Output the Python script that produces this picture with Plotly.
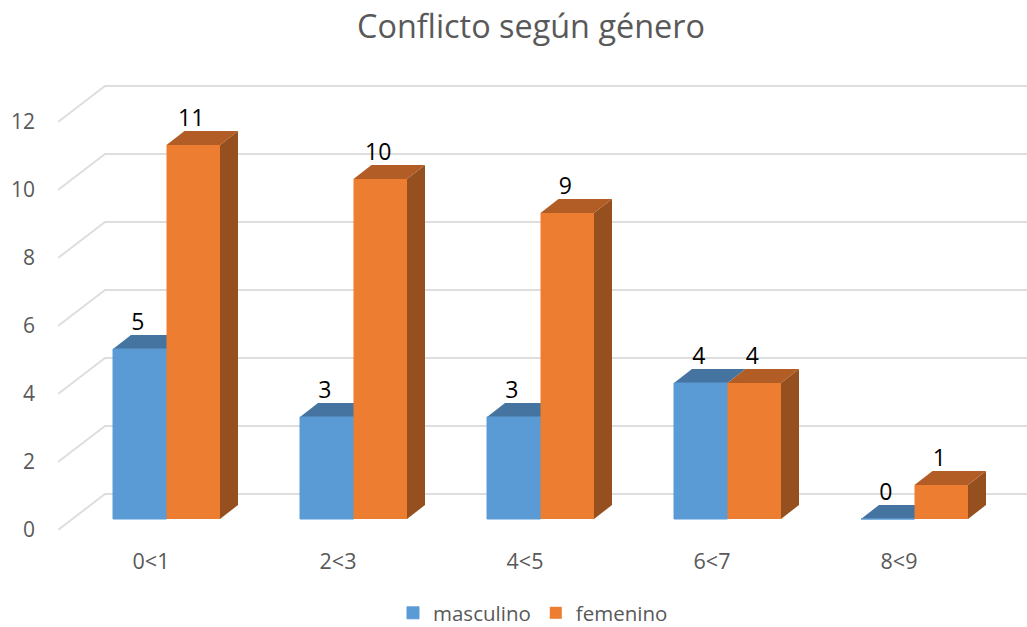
import plotly.graph_objects as go

categories = ["0<1", "2<3", "4<5", "6<7", "8<9"]
masculino = [5, 3, 3, 4, 0]
femenino = [11, 10, 9, 4, 1]
y_ticks = [0, 2, 4, 6, 8, 10, 12]

W, H = 1027, 627
L, R, T, B = 58, 0, 60, 97
PX_X = 187.0   # pixels per category
PX_Y = 34.0    # pixels per value unit
X0 = (L - 151) / PX_X
X1 = (W - 151) / PX_X
Y1 = (H - T - B) / PX_Y

px = lambda n: n / PX_X
py = lambda n: n / PX_Y

BASE = py(11)              # bars stand on the floor, in front of the wall
BAR_W = px(53.5)
SHIFT = px(15.5)
DX, DY = px(18), py(14)    # bar depth
WX, WY = px(47), py(36)    # wall depth

GRID = "#dedede"
TXT = "#595959"
FONT = "Open Sans"
BLUE, BLUE_TOP = "#5B9BD5", "#44749F"
ORANGE, ORANGE_TOP, ORANGE_SIDE = "#ED7D31", "#B25D25", "#96501F"

idx = list(range(len(categories)))
x_m = [i + SHIFT - BAR_W / 2 for i in idx]
x_f = [i + SHIFT + BAR_W / 2 for i in idx]

def poly(points, color):
    path = "M " + " L ".join(f"{x},{y}" for x, y in points) + " Z"
    return dict(type="path", path=path, xref="x", yref="y", fillcolor=color,
                line=dict(width=0), layer="below")

shapes = []
for v in y_ticks:
    shapes.append(dict(type="path", xref="x", yref="y", layer="below",
                       path=f"M {X0},{v} L {X0 + WX},{v + WY} L {X1},{v + WY}",
                       line=dict(color=GRID, width=2)))

for xc, v in zip(x_m, masculino):
    l, r, t = xc - BAR_W / 2, xc + BAR_W / 2, BASE + v
    shapes.append(poly([(l, t), (r, t), (r + DX, t + DY), (l + DX, t + DY)], BLUE_TOP))

for xc, v in zip(x_f, femenino):
    l, r, t = xc - BAR_W / 2, xc + BAR_W / 2, BASE + v
    shapes.append(poly([(r, BASE), (r + DX, BASE + DY), (r + DX, t + DY), (r, t)], ORANGE_SIDE))
    shapes.append(poly([(l, t), (r, t), (r + DX, t + DY), (l + DX, t + DY)], ORANGE_TOP))

fig = go.Figure()
fig.add_bar(name="masculino", x=x_m, y=masculino, base=BASE, width=BAR_W,
            marker=dict(color=BLUE, line=dict(width=1, color=BLUE)))
fig.add_bar(name="femenino", x=x_f, y=femenino, base=BASE, width=BAR_W,
            marker=dict(color=ORANGE, line=dict(width=0)))

label_lift = py(25)
fig.add_scatter(x=[x - px(2) for x in x_m] + [x - px(2) for x in x_f],
                y=[BASE + v + label_lift for v in masculino + femenino],
                text=[str(v) for v in masculino + femenino],
                mode="text", textposition="middle center",
                textfont=dict(family=FONT, size=23, color="#000000"),
                showlegend=False, hoverinfo="skip")

fig.update_layout(
    width=W, height=H, margin=dict(l=L, r=R, t=T, b=B, autoexpand=False),
    paper_bgcolor="white", plot_bgcolor="rgba(0,0,0,0)",
    barmode="overlay", shapes=shapes,
    font=dict(family=FONT, color=TXT),
    title=dict(text="Conflicto según género", x=531 / W, xanchor="center",
               y=1 - 27 / H, yanchor="middle",
               font=dict(family=FONT, size=32.4, color=TXT)),
    legend=dict(orientation="h", x=(533 - L) / (W - L), xanchor="center",
                y=(530 - 613) / (H - T - B), yanchor="middle",
                font=dict(family=FONT, size=20.5, color=TXT), bgcolor="rgba(0,0,0,0)"),
    xaxis=dict(range=[X0, X1], tickmode="array", tickvals=idx, ticktext=categories,
               showgrid=False, zeroline=False, showline=False, ticks="",
               ticklabelstandoff=16, tickfont=dict(family=FONT, size=21.5, color=TXT)),
    yaxis=dict(range=[0, Y1], tickmode="array", tickvals=y_ticks,
               showgrid=False, zeroline=False, showline=False, ticks="",
               ticklabelstandoff=22, tickfont=dict(family=FONT, size=21, color=TXT)),
)

fig.write_html("out.html", config={"displayModeBar": False},
               post_script="document.body.style.margin='0';")
